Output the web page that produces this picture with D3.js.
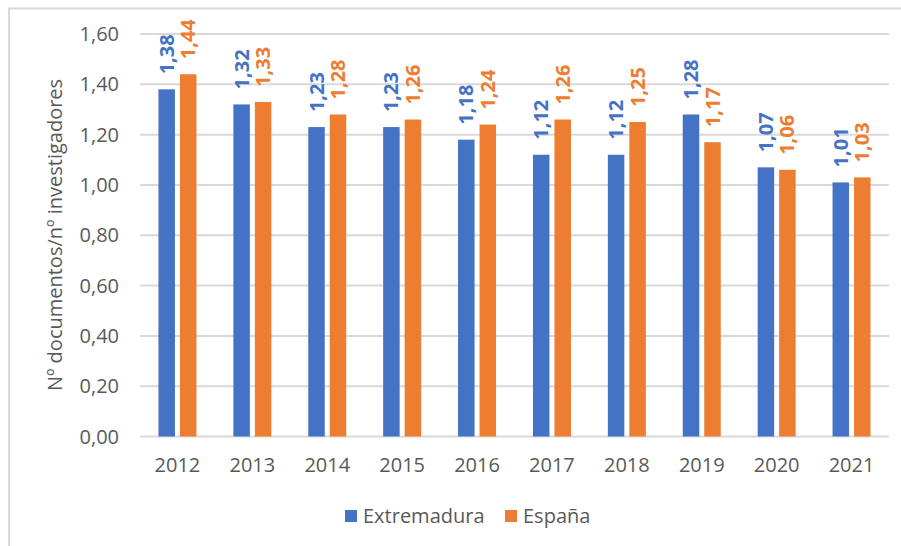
<!DOCTYPE html>
<html>
<head>
<meta charset="utf-8">
<script src="https://cdn.jsdelivr.net/npm/d3@7"></script>
<style>
  html, body { margin: 0; padding: 0; background: #fff; }
  svg { display: block; }
  text { font-family: "Open Sans", "Liberation Sans", sans-serif; }
</style>
</head>
<body>
<svg id="chart" width="901" height="546"></svg>
<script>
const years = ["2012","2013","2014","2015","2016","2017","2018","2019","2020","2021"];
const extremadura = [1.38, 1.32, 1.23, 1.23, 1.18, 1.12, 1.12, 1.28, 1.07, 1.01];
const espana = [1.44, 1.33, 1.28, 1.26, 1.24, 1.26, 1.25, 1.17, 1.06, 1.03];
const seriesNames = ["Extremadura", "España"];
const seriesColors = ["#4472C4", "#ED7D31"];
const yTicks = [0, 0.2, 0.4, 0.6, 0.8, 1.0, 1.2, 1.4, 1.6];
const yTitle = "Nº documentos/nº investigadores";

const svg = d3.select("#chart");
const W = 901, H = 546;
const plot = { left: 140, right: 889, top: 34, bottom: 436.5 };
const textColor = "#595959";
const fmt = v => v.toFixed(2).replace(".", ",");

// outer border
svg.append("rect").attr("x", 9).attr("y", 8.5).attr("width", W + 20).attr("height", H + 20)
  .attr("fill", "none").attr("stroke", "#D9D9D9").attr("stroke-width", 2);

const x = d3.scaleBand().domain(years).range([plot.left, plot.right]).paddingInner(0).paddingOuter(0);
const y = d3.scaleLinear().domain([0, 1.6]).range([plot.bottom, plot.top]);

// gridlines
svg.append("g").selectAll("line").data(yTicks).join("line")
  .attr("x1", plot.left).attr("x2", plot.right)
  .attr("y1", d => y(d)).attr("y2", d => y(d))
  .attr("stroke", "#D9D9D9").attr("stroke-width", 2);

// y tick labels
svg.append("g").selectAll("text").data(yTicks).join("text")
  .attr("x", 119).attr("y", d => y(d)).attr("dy", "0.35em")
  .attr("text-anchor", "end").attr("font-size", 20).attr("fill", textColor)
  .text(d => fmt(d));

// x labels
svg.append("g").selectAll("text").data(years).join("text")
  .attr("x", d => x(d) + x.bandwidth() / 2).attr("y", 465).attr("dy", "0.35em")
  .attr("text-anchor", "middle").attr("font-size", 20).attr("fill", textColor)
  .text(d => d);

// y title
svg.append("text")
  .attr("transform", "translate(55,235) rotate(-90)")
  .attr("text-anchor", "middle").attr("dy", "0.35em")
  .attr("font-size", 20).attr("fill", textColor).text(yTitle);

const barW = 16.5, gap = 2.5;
const allSeries = [extremadura, espana];
allSeries.forEach((vals, si) => {
  const off = si === 0 ? -(gap + barW) : gap;
  const g = svg.append("g");
  g.selectAll("rect").data(vals).join("rect")
    .attr("x", (d, i) => x(years[i]) + x.bandwidth() / 2 + off)
    .attr("width", barW)
    .attr("y", d => y(d))
    .attr("height", d => y(0) - y(d))
    .attr("fill", seriesColors[si]);
  g.selectAll("text").data(vals).join("text")
    .attr("transform", (d, i) => `translate(${x(years[i]) + x.bandwidth() / 2 + off + barW / 2},${y(d) - 15}) rotate(-90)`)
    .attr("dy", "0.35em").attr("text-anchor", "start")
    .attr("font-size", 20).attr("font-weight", "bold").attr("fill", seriesColors[si])
    .text(d => fmt(d));
});

// legend
const legendX = [345, 505];
seriesNames.forEach((name, i) => {
  svg.append("rect").attr("x", legendX[i]).attr("y", 510).attr("width", 12).attr("height", 12)
    .attr("fill", seriesColors[i]);
  svg.append("text").attr("x", legendX[i] + 18).attr("y", 516).attr("dy", "0.35em")
    .attr("font-size", 20).attr("fill", textColor).text(name);
});
</script>
</body>
</html>
